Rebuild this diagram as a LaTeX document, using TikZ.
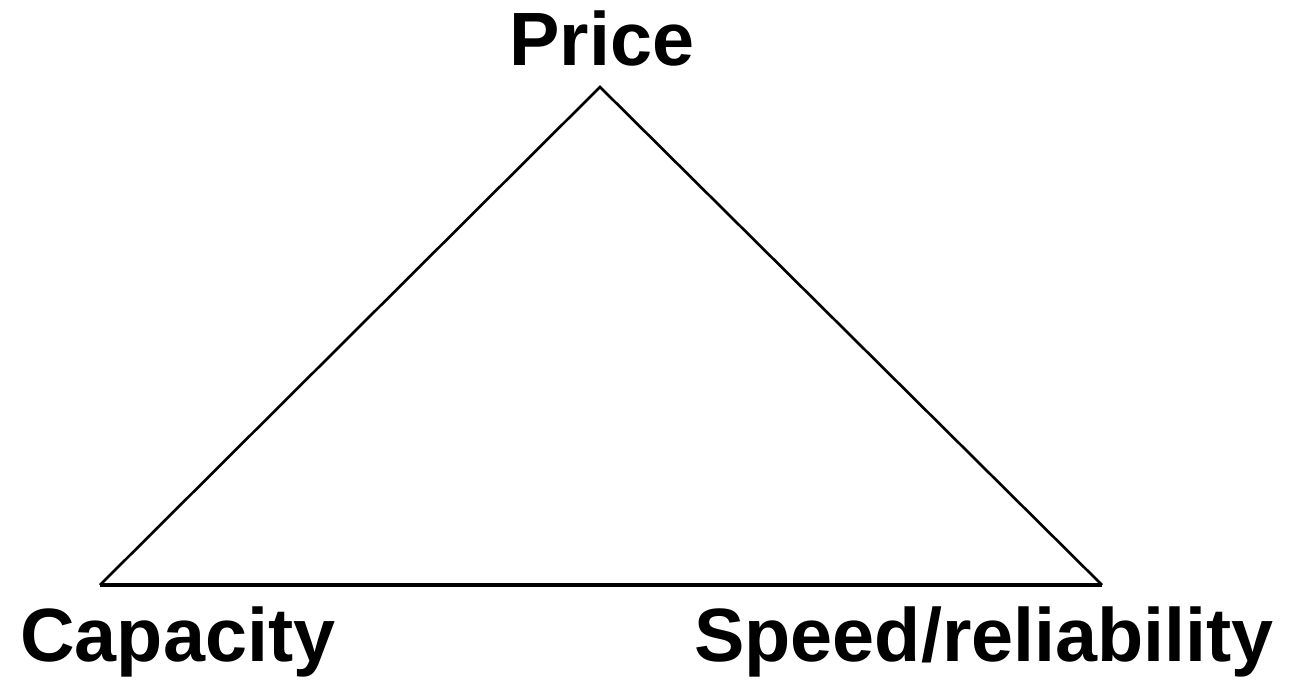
\documentclass[tikz,border=0pt]{standalone}
\usepackage{fontspec}
\setmainfont{Liberation Sans}
\usepackage{tikz}

\begin{document}
\begin{tikzpicture}[x=0.02cm,y=-0.02cm,
    corner/.style={font=\fontsize{43}{50}\selectfont\bfseries,inner sep=0pt}]
    \useasboundingbox (0,0) rectangle (1297,683);
    \coordinate (top) at (600,87);
    \coordinate (left) at (100,585);
    \coordinate (right) at (1102,585);
    \draw[line width=1.5pt,line join=miter] (left)--(top)--(right);
    \draw[line width=2.8pt] (left)--(right);
    \node[corner,anchor=base] (price) at (602,65) {Price};
    \node[corner,anchor=base west] (capacity) at (20,661) {Capacity};
    \node[corner,anchor=base west] (speed) at (694,661) {Speed/reliability};
  \end{tikzpicture}
\end{document}
